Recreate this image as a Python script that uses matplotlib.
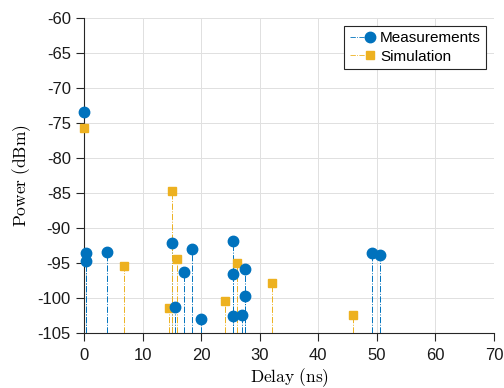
import numpy as np
import matplotlib.pyplot as plt
from matplotlib.lines import Line2D
from matplotlib.legend_handler import HandlerLine2DCompound

# delays (ns) and received power (dBm)
meas_delay = [0.0, 0.3, 0.3, 3.9, 15.0, 15.5, 17.0, 18.5, 20.0,
              25.5, 25.5, 25.5, 27.0, 27.5, 27.5, 49.1, 50.6]
meas_power = [-73.4, -93.6, -94.7, -93.4, -92.1, -101.3, -96.3, -93.0, -103.0,
              -91.9, -96.6, -102.6, -102.4, -95.8, -99.7, -93.6, -93.9]

sim_delay = [0.0, 6.8, 14.5, 15.1, 15.9, 24.0, 26.1, 32.1, 45.9]
sim_power = [-75.7, -95.4, -101.5, -84.7, -94.5, -100.4, -95.0, -97.8, -102.4]

blue = '#0072BD'
yellow = '#EDB120'
floor = -105


# matlab-style legend entry: dash-dot line with the marker at its right end
class StemHandler(HandlerLine2DCompound):
    def get_xdata(self, legend, xdescent, ydescent, width, height, fontsize):
        xdata = np.array([-xdescent, -xdescent + width * 0.85])
        return xdata, np.array([-xdescent + width * 0.85])


plt.rcParams['font.family'] = ['Liberation Sans', 'DejaVu Sans']
plt.rcParams['mathtext.fontset'] = 'cm'

fig = plt.figure(figsize=(5.04, 3.88), dpi=100)
ax = fig.add_axes([0.1667, 0.1418, 0.8135, 0.8118])

# stems
ax.vlines(meas_delay, floor, meas_power, colors=blue, linestyles='-.', linewidth=0.7, zorder=2)
ax.vlines(sim_delay, floor, sim_power, colors=yellow, linestyles='-.', linewidth=0.7, zorder=2)
# heads
ax.plot(sim_delay, sim_power, 's', color=yellow, markersize=6.3, zorder=3, clip_on=False)
ax.plot(meas_delay, meas_power, 'o', color=blue, markersize=7.5, zorder=4, clip_on=False)

ax.set_xlim(0, 70)
ax.set_ylim(-105, -60)
ax.set_xticks(range(0, 71, 10))
ax.set_yticks(range(-105, -59, 5))
ax.set_yticklabels([str(v) for v in range(-105, -59, 5)])

ax.grid(True, color='#e0e0e0', linewidth=0.7)
ax.set_axisbelow(True)
for s in ['top', 'right']:
    ax.spines[s].set_visible(False)
for s in ['left', 'bottom']:
    ax.spines[s].set_color('#262626')
    ax.spines[s].set_linewidth(0.8)
ax.tick_params(direction='out', length=5.5, width=0.8, color='#262626',
               labelsize=12, labelcolor='#1a1a1a')
ax.tick_params(axis='x', pad=5)
ax.tick_params(axis='y', pad=4)

ax.set_xlabel(r'$\mathrm{Delay\ (ns)}$', fontsize=12.5, labelpad=3)
ax.set_ylabel(r'$\mathrm{Power\ (dBm)}$', fontsize=12.5, labelpad=3)

handles = [
    Line2D([], [], color=blue, linestyle='-.', linewidth=0.6, marker='o', markersize=7.5),
    Line2D([], [], color=yellow, linestyle='-.', linewidth=0.6, marker='s', markersize=6.3),
]
leg = ax.legend(handles, ['Measurements', 'Simulation'], loc='upper right',
                fontsize=11, fancybox=False, framealpha=1, edgecolor='#262626',
                borderaxespad=0.5, handlelength=1.6, handletextpad=0.4,
                borderpad=0.35, labelspacing=0.3,
                handler_map={Line2D: StemHandler()})
leg.get_frame().set_linewidth(0.8)

fig.savefig('out.png', dpi=100)
